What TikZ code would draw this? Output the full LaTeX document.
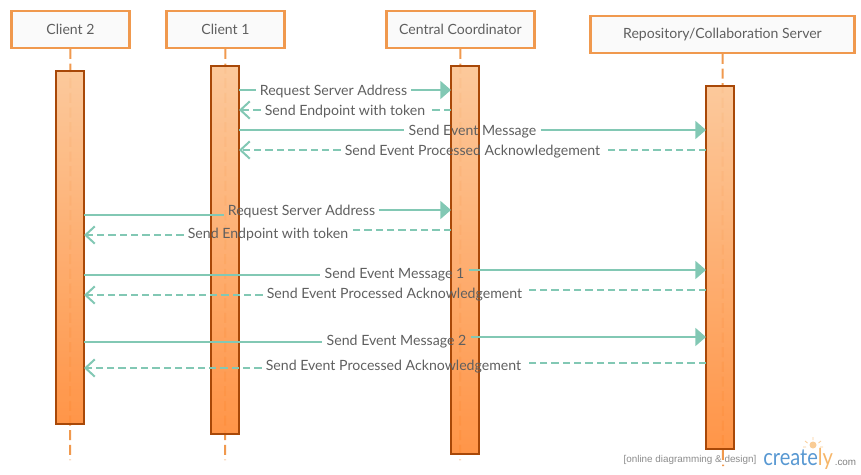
\documentclass[tikz,border=0pt]{standalone}
\usepackage{fontspec}
\setmainfont{Lato}
\newfontfamily\tagfont{Liberation Sans}
\usetikzlibrary{arrows.meta}
\definecolor{boxline}{RGB}{240,153,78}
\definecolor{barline}{RGB}{168,72,8}
\definecolor{msgline}{RGB}{130,200,180}
\definecolor{msgtext}{RGB}{95,95,95}
\definecolor{logoblue}{RGB}{88,152,210}
\definecolor{logoorange}{RGB}{246,182,105}

\begin{document}
\begin{tikzpicture}[x=0.75pt,y=-0.75pt,
    role/.style={draw=boxline,line width=1.6pt,fill=black!2,text=msgtext,minimum height=27.5pt,inner sep=0pt,font=\fontsize{10.55}{12}\selectfont},
    lifeline/.style={draw=boxline,line width=1.5pt,dash pattern=on 7.5pt off 3.5pt},
    bar/.style={draw=barline,line width=1.7pt,top color={rgb,255:red,252;green,198;blue,150},bottom color={rgb,255:red,255;green,143;blue,62},fill opacity=.95,draw opacity=1,minimum width=21pt,inner sep=0pt,outer sep=0pt},
    label/.style={text=msgtext,inner sep=0pt,inner xsep=3pt,text height=10pt,text depth=2.5pt,font=\fontsize{10.6}{12}\selectfont},
    call/.style={draw=msgline,line width=1.5pt},
    callend/.style={call,-{Triangle[length=8pt,width=13.5pt]}},
    reply/.style={draw=msgline,line width=1.5pt,dash pattern=on 5.5pt off 3pt},
    replyend/.style={reply,-{Straight Barb[length=7pt,width=13pt,line width=1.5pt]}}]
\useasboundingbox (0,0) rectangle (861,475);

% heads
\node[role,minimum width=88.5pt]  (client2) at (70.5,29.5)  {Client 2};
\node[role,minimum width=88.5pt]  (client1) at (225.5,29.5) {Client 1};
\node[role,minimum width=111pt] (central) at (460.5,29.5) {Central Coordinator};
\node[role,minimum width=198pt] (repo)    at (722.5,34.5) {Repository/Collaboration Server};

% lifeline ends
\coordinate (client2end) at (70,460);
\coordinate (client1end) at (225,460);
\coordinate (centralend) at (460,460);
\coordinate (repoend)    at (723,466);

\draw[lifeline] (client2) -- (client2end);
\draw[lifeline] (client1) -- (client1end);
\draw[lifeline] (central) -- (centralend);
\draw[lifeline] (repo) -- (repoend);

% activations
\node[bar,minimum height=264.75pt] (client2bar) at (70,247.5)  {};
\node[bar,minimum height=276pt]    (client1bar) at (225,250)   {};
\node[bar,minimum height=291pt]    (centralbar) at (465,260)   {};
\node[bar,minimum height=272.25pt] (repobar)    at (720,267.5) {};

% labels
\node[label] (m1)  at (333.5,90)  {Request Server Address};
\node[label] (m2)  at (345,110)   {Send Endpoint with token};
\node[label] (m3)  at (472.5,130) {Send Event Message};
\node[label] (m4)  at (472.5,150) {Send Event Processed Acknowledgement};
\node[label] (m5)  at (301.5,210) {Request Server Address};
\node[label] (m6)  at (268,233)   {Send Endpoint with token};
\node[label] (m7)  at (394.5,273) {Send Event Message 1};
\node[label] (m8)  at (394.5,293) {Send Event Processed Acknowledgement};
\node[label] (m9)  at (396.5,340) {Send Event Message 2};
\node[label] (m10) at (393.5,365) {Send Event Processed Acknowledgement};

% messages
\draw[call] (client1bar.east |- m1) -- (m1.west);
\draw[callend] (m1.east) -- (centralbar.west |- m1);
\draw[reply] (centralbar.west |- m2) -- (m2.east);
\draw[replyend] (m2.west) -- (client1bar.east |- m2);
\draw[call] (client1bar.east |- m3) -- (m3.west);
\draw[callend] (m3.east) -- (repobar.west |- m3);
\draw[reply] (repobar.west |- m4) -- (m4.east);
\draw[replyend] (m4.west) -- (client1bar.east |- m4);

\draw[call] (client2bar.east |- 0,215) -- (m5.west |- 0,215);
\draw[callend] (m5.east) -- (centralbar.west |- m5);
\draw[reply] (centralbar.west |- 0,230) -- (m6.east |- 0,230);
\draw[replyend] (m6.west |- 0,235) -- (client2bar.east |- 0,235);

\draw[call] (client2bar.east |- 0,275) -- (m7.west |- 0,275);
\draw[callend] (m7.east |- 0,270) -- (repobar.west |- 0,270);
\draw[reply] (repobar.west |- 0,290) -- (m8.east |- 0,290);
\draw[replyend] (m8.west |- 0,295) -- (client2bar.east |- 0,295);

\draw[call] (client2bar.east |- 0,342) -- (m9.west |- 0,342);
\draw[callend] (m9.east |- 0,337) -- (repobar.west |- 0,337);
\draw[reply] (repobar.west |- 0,363) -- (m10.east |- 0,363);
\draw[replyend] (m10.west |- 0,368) -- (client2bar.east |- 0,368);

% watermark
\node[text=black!45,inner sep=0pt,font=\tagfont\fontsize{7.4}{8}\selectfont] (tagline) at (690,460) {[online diagramming \& design]};
\fill[logoorange!70] (813,445) circle (3.5);
\draw[logoorange!70,line width=.6pt] (813,437) -- (813,440) (805,441) -- (807.5,443) (821,441) -- (818.5,443) (803,447) -- (806,447) (823,447) -- (820,447);
\node[text=logoblue,inner sep=0pt,anchor=base west,font=\fontsize{17.5}{20}\selectfont] (logo) at (763,465) {\scalebox{.86}[1]{create\textcolor{logoorange}{ly}}};
\node[text=black!50,inner sep=0pt,anchor=base west,font=\tagfont\fontsize{7.4}{8}\selectfont] (logocom) at (834.5,465) {.com};
\end{tikzpicture}
\end{document}
